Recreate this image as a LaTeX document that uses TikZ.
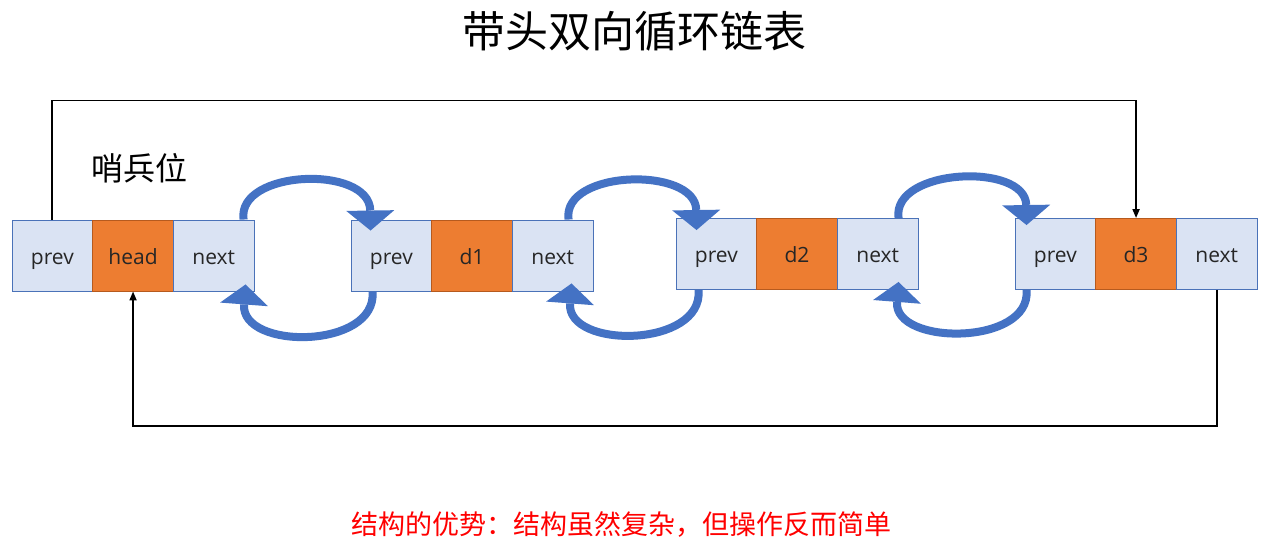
\documentclass[tikz,border=0pt]{standalone}
\usepackage{fontspec}
\setmainfont{Open Sans}
\newfontfamily\cjk{Noto Sans CJK SC}
\usetikzlibrary{arrows.meta,calc}
\definecolor{cellfill}{HTML}{DAE3F3}
\definecolor{cellline}{HTML}{4A72B8}
\definecolor{datafill}{HTML}{ED7D31}
\definecolor{dataline}{HTML}{B65A1E}
\definecolor{arcblue}{HTML}{4472C4}
\definecolor{notered}{HTML}{FF0000}
\tikzset{
  cell/.style={draw=cellline, fill=cellfill, line width=0.9pt, minimum width=80.7pt, minimum height=71pt,
    inner sep=0pt, text height=17pt, text depth=0pt, font=\fontsize{21}{21}\selectfont, text=black!85},
  datacell/.style={cell, draw=dataline, fill=datafill},
  link/.style={line width=1.8pt, -{Triangle[width=7pt,length=9pt]}},
  arc/.style={draw=arcblue, line width=8pt, -{Triangle[width=48pt,length=20pt,line width=0pt]}},
}
\begin{document}
\begin{tikzpicture}[x=1pt,y=-1pt]
\useasboundingbox[fill=white] (0,0) rectangle (1272,543);

\node[font=\cjk\fontsize{43}{43}\selectfont] (title) at (634.5,31) {带头双向循环链表};
\node[font=\cjk\fontsize{32}{32}\selectfont] (sentinel) at (139,168) {哨兵位};
\node[font=\cjk\fontsize{27}{27}\selectfont, text=notered] (note) at (621.5,524) {结构的优势：结构虽然复杂，但操作反而简单};

% node 0 (head)
\node[cell] (p0) at (52.35,255.5) {prev};
\node[datacell] (h0) at (133.05,255.5) {head};
\node[cell] (x0) at (213.75,255.5) {next};
% node 1
\node[cell] (p1) at (391.35,255.5) {prev};
\node[datacell] (d1) at (472.05,255.5) {d1};
\node[cell] (x1) at (552.75,255.5) {next};
% node 2
\node[cell] (p2) at (716.35,254) {prev};
\node[datacell] (d2) at (797.05,254) {d2};
\node[cell] (x2) at (877.75,254) {next};
% node 3
\node[cell] (p3) at (1055.35,254) {prev};
\node[datacell] (d3) at (1136.05,254) {d3};
\node[cell] (x3) at (1216.75,254) {next};

% circular links
\draw[link] (p0.north) -- ++(0,-119) -| (d3.north);
\draw[link] (x3.south) -- ++(0,136) -| (h0.south);

% blue arcs
\draw[arc] ($(x0.north east)+(-11,0)$) .. controls +(-7,-50) and +(-1,-66) .. ($(p1.north west)+(20,11)$);
\draw[arc] ($(p1.south west)+(22,0)$) .. controls +(5,58) and +(-5,66) .. ($(x0.south east)+(-9,-7)$);

\draw[arc] ($(x1.north east)+(-25,0)$) .. controls +(-7,-50) and +(-1,-64) .. ($(p2.north west)+(21,12)$);
\draw[arc] ($(p2.south west)+(23,0)$) .. controls +(5,58) and +(-5,66) .. ($(x1.south east)+(-22,-8)$);

\draw[arc] ($(x2.north east)+(-20,0)$) .. controls +(-7,-50) and +(-1,-63) .. ($(p3.north west)+(12,7)$);
\draw[arc] ($(p3.south west)+(12,0)$) .. controls +(5,56) and +(-5,64) .. ($(x2.south east)+(-20,-8)$);
\end{tikzpicture}
\end{document}
